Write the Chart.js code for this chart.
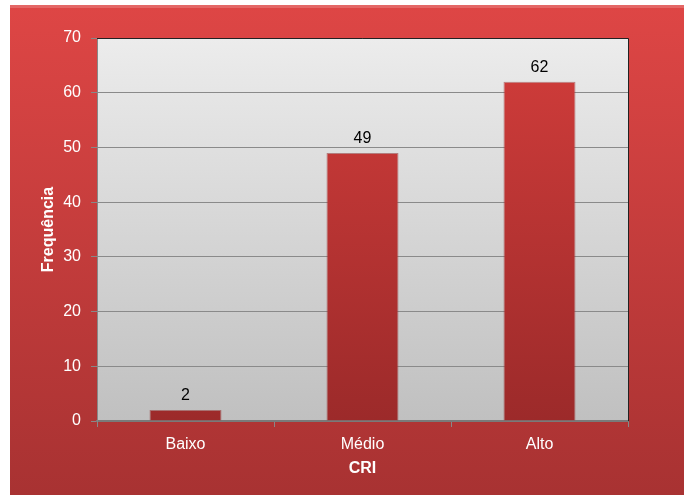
<!DOCTYPE html>
<html><head><meta charset="utf-8">
<script src="https://cdn.jsdelivr.net/npm/chart.js@4.4.0/dist/chart.umd.min.js"></script>
<style>html,body{margin:0;padding:0;background:#fff}#wrap{width:684px;height:495px}</style>
</head><body><div id="wrap"><canvas id="c" width="684" height="495"></canvas></div>
<script>
const categories = ['Baixo', 'Médio', 'Alto'];
const frequencia = [2, 49, 62];
const yTicks = [0, 10, 20, 30, 40, 50, 60, 70];

const bgPlugin = {
  id: 'bg',
  beforeDraw(chart) {
    const ctx = chart.ctx, a = chart.chartArea;
    ctx.save();
    ctx.fillStyle = '#ffffff';
    ctx.fillRect(0, 0, chart.width, chart.height);
    let g = ctx.createLinearGradient(0, 5, 0, chart.height);
    g.addColorStop(0, '#de4645');
    g.addColorStop(1, '#a83232');
    ctx.fillStyle = g;
    ctx.fillRect(10, 5, chart.width - 10, chart.height - 5);
    ctx.fillStyle = 'rgba(255,255,255,0.18)';
    ctx.fillRect(10, 5, chart.width - 10, 3);
    g = ctx.createLinearGradient(0, a.top, 0, a.bottom);
    g.addColorStop(0, '#ececec');
    g.addColorStop(1, '#c0c0c0');
    ctx.fillStyle = g;
    ctx.fillRect(a.left, a.top, a.right - a.left, a.bottom - a.top);
    ctx.restore();
  },
  afterDatasetsDraw(chart) {
    const ctx = chart.ctx, a = chart.chartArea;
    ctx.save();
    ctx.strokeStyle = '#222';
    ctx.lineWidth = 1;
    ctx.beginPath();
    ctx.moveTo(a.left, a.top + 0.5); ctx.lineTo(a.right + 0.5, a.top + 0.5);
    ctx.lineTo(a.right + 0.5, a.bottom);
    ctx.stroke();
    ctx.font = '16px "Liberation Sans", Arial, sans-serif';
    ctx.fillStyle = '#000';
    ctx.textAlign = 'center';
    ctx.textBaseline = 'bottom';
    const meta = chart.getDatasetMeta(0);
    meta.data.forEach((bar, i) => {
      ctx.fillText(String(chart.data.datasets[0].data[i]), bar.x, bar.y - 6);
    });
    ctx.restore();
  }
};

const ctx = document.getElementById('c').getContext('2d');
new Chart(ctx, {
  type: 'bar',
  data: {
    labels: categories,
    datasets: [{
      data: frequencia,
      backgroundColor: (c) => {
        const ch = c.chart, a = ch.chartArea;
        if (!a) return '#c83a38';
        const g = ch.ctx.createLinearGradient(0, a.top, 0, a.bottom);
        g.addColorStop(0, '#d23d3b');
        g.addColorStop(1, '#9c2a2a');
        return g;
      },
      borderColor: 'rgba(150,60,60,0.6)',
      borderWidth: 1,
      categoryPercentage: 1,
      barPercentage: 0.407
    }]
  },
  options: {
    responsive: false,
    animation: false,
    devicePixelRatio: 1,
    layout: { padding: { left: 10, top: 38, right: 56, bottom: 13 } },
    plugins: { legend: { display: false }, tooltip: { enabled: false } },
    scales: {
      x: {
        afterFit(s) { s.height = 61; },
        grid: { drawOnChartArea: false, drawTicks: true, tickLength: 6, color: '#888', tickColor: '#888' },
        border: { color: '#7a7a7a', width: 2 },
        ticks: { color: '#fff', font: { family: '"Liberation Sans", Arial, sans-serif', size: 16 }, padding: 8 },
        title: { display: true, text: 'CRI', color: '#fff', font: { family: '"Liberation Sans", Arial, sans-serif', size: 16, weight: 'bold' }, padding: { top: 4, bottom: 4 } }
      },
      y: {
        min: 0, max: 70,
        afterFit(s) { s.width = 87; },
        afterBuildTicks(s) { s.ticks = yTicks.map(v => ({ value: v })); },
        grid: { color: '#8a8a8a', tickLength: 6, tickColor: '#888' },
        border: { color: '#888' },
        ticks: { color: '#fff', font: { family: '"Liberation Sans", Arial, sans-serif', size: 16 }, padding: 10 },
        title: { display: true, text: 'Frequência', color: '#fff', font: { family: '"Liberation Sans", Arial, sans-serif', size: 16, weight: 'bold' }, padding: { top: 29 } }
      }
    }
  },
  plugins: [bgPlugin]
});
</script></body></html>
